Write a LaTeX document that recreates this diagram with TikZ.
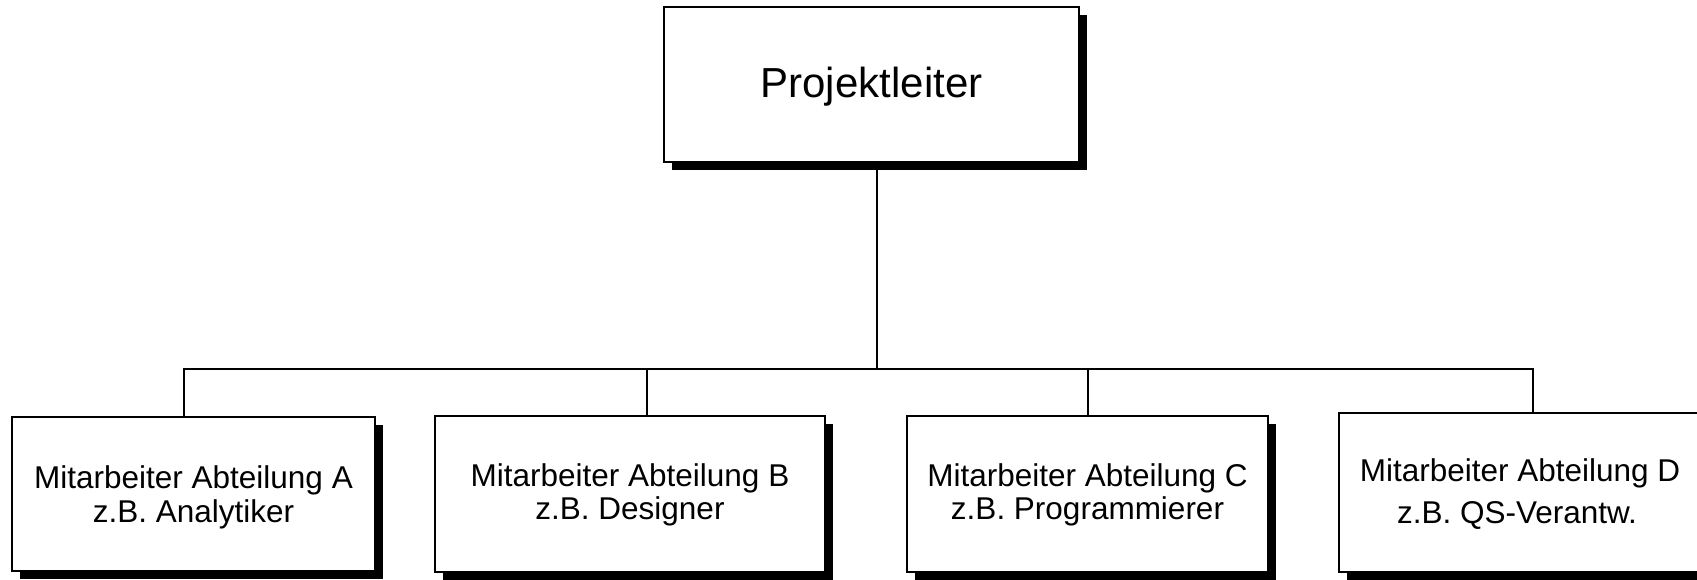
\documentclass[tikz,border=0pt]{standalone}
\usepackage{fontspec}
\setmainfont{Liberation Sans}
\usetikzlibrary{shadows}

\tikzset{
  orgbox/.style={draw=black, fill=white, line width=1.8pt, rectangle, inner sep=0pt,
    drop shadow={shadow xshift=8pt, shadow yshift=-8pt, fill=black, opacity=1}},
  headbox/.style={orgbox, font=\fontsize{42}{48}\selectfont, text height=34pt, text depth=8.8pt},
  line/.style={anchor=base, inner sep=0pt, font=\fontsize{31.5}{35}\selectfont},
  link/.style={draw=black, line width=1.8pt}
}

\begin{document}
\begin{tikzpicture}[x=1pt, y=-1pt]
  \useasboundingbox (0,0) rectangle (1697,579);
  \clip (0,0) rectangle (1697,579);
  \fill[white] (0,0) rectangle (1697,579);

  % project lead
  \node[headbox, minimum width=415pt, minimum height=155pt] (lead) at (871.5,84.5) {Projektleiter};

  % department boxes
  \node[orgbox, minimum width=363pt, minimum height=154pt] (a) at (193.5,494) {};
  \node[orgbox, minimum width=390pt, minimum height=156pt] (b) at (630,494) {};
  \node[orgbox, minimum width=361pt, minimum height=156pt] (c) at (1087.5,494) {};
  \node[orgbox, minimum width=381pt, minimum height=159pt] (d) at (1529.5,492.5) {};

  % department labels, one node per line
  \node[line] (a1) at (193.5,488) {Mitarbeiter Abteilung A};
  \node[line] (a2) at (193.5,522) {z.B. Analytiker};
  \node[line] (b1) at (630,486) {Mitarbeiter Abteilung B};
  \node[line] (b2) at (630,519.5) {z.B. Designer};
  \node[line] (c1) at (1087.5,486) {Mitarbeiter Abteilung C};
  \node[line] (c2) at (1087.5,519) {z.B. Programmierer};
  \node[line] (d1) at (1520,481.7) {Mitarbeiter Abteilung D};
  \node[line] (d2) at (1517,523.3) {z.B. QS-Verantw.};

  % reporting lines
  \coordinate (hub) at (877,369);
  \draw[link] (hub |- lead.south) -- (hub);
  \draw[link] ([xshift=-9.5pt]a.north) |- (hub);
  \draw[link] ([xshift=17pt]b.north) |- (hub);
  \draw[link] ([xshift=0.5pt]c.north) |- (hub);
  \draw[link] ([xshift=3.5pt]d.north) |- (hub);
\end{tikzpicture}
\end{document}
